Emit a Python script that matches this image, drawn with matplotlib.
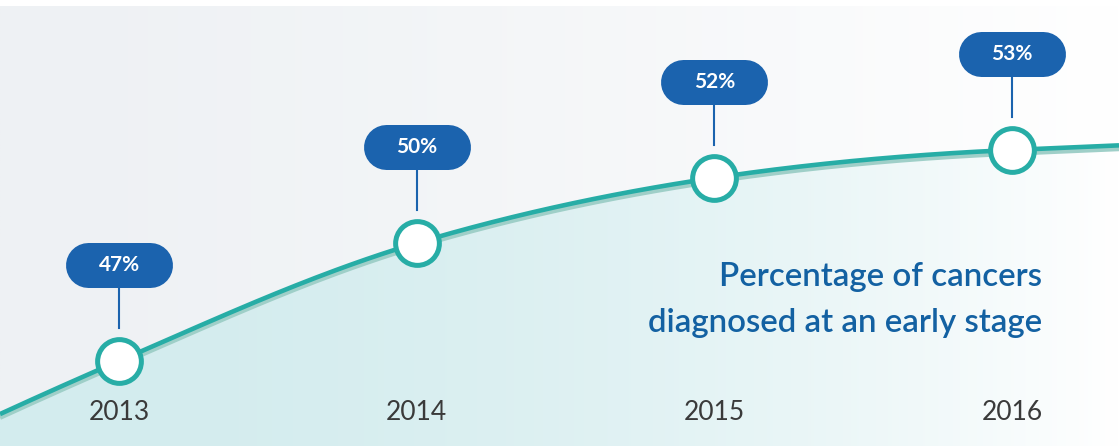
import numpy as np
import matplotlib
matplotlib.use("Agg")
import matplotlib.pyplot as plt
import matplotlib.transforms as mtransforms
from matplotlib.patches import Polygon
from matplotlib.lines import Line2D

plt.rcParams['font.family'] = ['Lato', 'DejaVu Sans']

# ---- data ----
years = [2013, 2014, 2015, 2016]
values = [47, 50, 52, 53]
value_labels = ["47%", "50%", "52%", "53%"]
title_lines = ["Percentage of cancers", "diagnosed at an early stage"]

# ---- styles ----
TEAL = "#27ada6"
SHADOW = "#9fcfc8"
BLUE = "#1b63ae"
TITLE_BLUE = "#1361a2"
YEAR_COLOR = "#3a3a3a"

W, H = 1119, 446
fig = plt.figure(figsize=(W / 100, H / 100), dpi=100)
ax = fig.add_axes([0, 0, 1, 1])
ax.set_axis_off()

# infographic-style compressive value scale
C, P = 56.5, 1.5
def fwd(v):
    u = C - np.asarray(v, dtype=float)
    return -np.sign(u) * np.abs(u) ** P
def inv(f):
    f = np.asarray(f, dtype=float)
    return C + np.sign(f) * np.abs(f) ** (1 / P)
ax.set_yscale('function', functions=(fwd, inv))

xs = np.array(years, dtype=float)
ys = np.array(values, dtype=float)
ax.set_xlim(2012.600, 2016.359)
ax.set_ylim(45.11, 61.02)

# background gradient (grey at left -> white at right)
gx = np.linspace(0, 1, 400)
tb = gx ** 1.3
bg_left = np.array([238, 241, 244]) / 255
white = np.ones(3)
bg = bg_left[None, :] * (1 - tb[:, None]) + white[None, :] * tb[:, None]
bg_img = np.tile(bg[None, :, :], (2, 1, 1))
ax.imshow(bg_img, extent=(0, 1, 0, 1 - 6 / H), transform=ax.transAxes,
          aspect='auto', zorder=0, interpolation='bilinear')

# smooth curve via Hermite interpolation
sec = np.diff(ys) / np.diff(xs)
m = np.zeros_like(ys)
m[1:-1] = (sec[:-1] + sec[1:]) / 2
m[0] = sec[0]
m[-1] = sec[-1] / 2

cx, cy = [], []
x0, x1 = ax.get_xlim()
xl = np.linspace(x0, xs[0], 20)
cx += list(xl); cy += list(ys[0] + m[0] * (xl - xs[0]))
for i in range(len(xs) - 1):
    h = xs[i + 1] - xs[i]
    t = np.linspace(0, 1, 60)[1:]
    h00 = 2 * t**3 - 3 * t**2 + 1
    h10 = t**3 - 2 * t**2 + t
    h01 = -2 * t**3 + 3 * t**2
    h11 = t**3 - t**2
    cx += list(xs[i] + t * h)
    cy += list(h00 * ys[i] + h10 * h * m[i] + h01 * ys[i + 1] + h11 * h * m[i + 1])
xr = np.linspace(xs[-1], x1, 20)[1:]
cx += list(xr); cy += list(ys[-1] + m[-1] * (xr - xs[-1]))
cx = np.array(cx); cy = np.array(cy)

# area fill gradient clipped to polygon under curve
y0 = ax.get_ylim()[0]
poly = Polygon(np.column_stack([np.r_[cx, cx[-1], cx[0]], np.r_[cy, y0, y0]]),
               closed=True, facecolor='none', edgecolor='none')
ax.add_patch(poly)
tf = gx ** 2.0
fill_left = np.array([211, 236, 238]) / 255
fc = fill_left[None, :] * (1 - tf[:, None]) + white[None, :] * tf[:, None]
fill_img = np.tile(fc[None, :, :], (2, 1, 1))
im = ax.imshow(fill_img, extent=(0, 1, 0, 1), transform=ax.transAxes,
               aspect='auto', zorder=1, interpolation='bilinear')
im.set_clip_path(poly)

# shadow line under main line
shadow_tr = ax.transData + mtransforms.ScaledTranslation(0, -0.035, fig.dpi_scale_trans)
ax.plot(cx, cy, color=SHADOW, lw=3.4, transform=shadow_tr, zorder=2,
        solid_capstyle='butt')
ax.plot(cx, cy, color=TEAL, lw=3.3, zorder=3, solid_capstyle='butt')

# markers
ax.plot(xs, ys, linestyle='none', marker='o', markersize=31.5, mfc='white',
        mec=TEAL, mew=3.6, zorder=5)

# labels (pill = thick line with round caps, in inch offsets from the point)
for x, y, lab in zip(xs, ys, value_labels):
    tr = fig.dpi_scale_trans + mtransforms.ScaledTranslation(x, y, ax.transData)
    ax.add_line(Line2D([-0.31, 0.31], [0.96, 0.96], transform=tr, color=BLUE,
                       lw=45 * 0.72, solid_capstyle='round', zorder=6))
    ax.add_line(Line2D([0, 0], [0.74, 0.33], transform=tr, color=BLUE,
                       lw=1.5, zorder=6))
    ax.text(0, 0.96, lab, transform=tr, ha='center', va='center',
            color='white', fontsize=15, fontweight='bold', zorder=7)

# year labels
year_tr = mtransforms.blended_transform_factory(ax.transData, ax.transAxes)
for x, yr in zip(xs, years):
    ax.text(x, 1 - 420 / H, str(yr), transform=year_tr, ha='center',
            va='baseline', color=YEAR_COLOR, fontsize=19, zorder=4)

# title
for i, line in enumerate(title_lines):
    ax.text(1042 / W, 1 - (286 + 46 * i) / H, line, transform=ax.transAxes,
            ha='right', va='baseline', color=TITLE_BLUE, fontsize=23.8,
            fontweight='semibold', zorder=4)

fig.savefig("out.png", dpi=100)
